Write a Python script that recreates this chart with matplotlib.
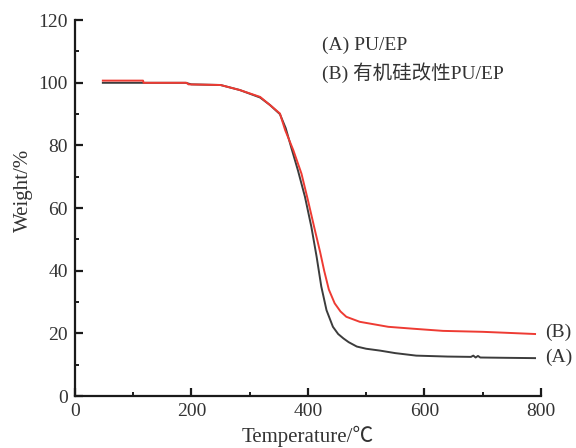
import matplotlib
matplotlib.use("Agg")
import matplotlib.pyplot as plt
from matplotlib.ticker import MultipleLocator

# TGA curves
temp_a = [48, 190, 200, 250, 283, 318, 335, 352, 362, 372, 383, 395, 406, 415,
          423, 432, 443, 452, 461, 470, 484, 500, 524, 550, 586, 640, 680, 684,
          688, 692, 696, 740, 790]
weight_a = [100, 100, 99.5, 99.3, 97.7, 95.3, 92.9, 90, 85.5, 79, 72, 63.6, 54,
            44.5, 35, 27.4, 22.1, 19.8, 18.4, 17.2, 15.8, 15.1, 14.5, 13.7,
            12.9, 12.6, 12.5, 12.9, 12.3, 12.8, 12.3, 12.2, 12.1]

temp_b = [48, 117, 118, 192, 195, 250, 283, 318, 335, 352, 361, 375, 389, 400,
          412, 421, 428, 436, 446, 456, 466, 489, 538, 580, 632, 700, 752, 790]
weight_b = [100.7, 100.7, 100, 100, 99.5, 99.3, 97.7, 95.5, 92.9, 90.2, 84.9,
            78.5, 71, 62.6, 53, 46, 40, 34, 29.6, 27, 25.3, 23.7, 22.1,
            21.5, 20.8, 20.5, 20.1, 19.8]

label_a = "(A) PU/EP"
label_b = "(B) 有机硅改性PU/EP"

plt.rcParams["font.family"] = ["Liberation Serif", "Noto Sans CJK SC"]
plt.rcParams["font.size"] = 14

fig = plt.figure(figsize=(5.76, 4.48), dpi=100)
ax = fig.add_axes([0.130, 0.116, 0.809, 0.839])

ax.plot(temp_a, weight_a, color="#3c3c3c", linewidth=1.4)
ax.plot(temp_b, weight_b, color="#ee3b33", linewidth=1.4)

ax.set_xlim(0, 800)
ax.set_ylim(0, 120)
ax.xaxis.set_major_locator(MultipleLocator(200))
ax.xaxis.set_minor_locator(MultipleLocator(100))
ax.yaxis.set_major_locator(MultipleLocator(20))
ax.yaxis.set_minor_locator(MultipleLocator(10))

for side in ("top", "right"):
    ax.spines[side].set_visible(False)
for side in ("left", "bottom"):
    ax.spines[side].set_linewidth(1.6)
    ax.spines[side].set_color("#1a1a1a")

ax.tick_params(which="major", direction="in", length=6, width=1.6,
               colors="#1a1a1a", labelsize=14, labelcolor="#333333")
ax.tick_params(which="minor", direction="in", length=3, width=1.4,
               colors="#1a1a1a")
ax.tick_params(axis="x", pad=5)
ax.tick_params(axis="y", pad=5)

ax.set_xlabel("Temperature/℃", fontsize=15, color="#333333", labelpad=4)
ax.set_ylabel("Weight/%", fontsize=15, color="#333333")
ax.yaxis.set_label_coords(-0.09, 0.548)

ax.text(322 / 576, 1 - 45 / 448, label_a, transform=fig.transFigure,
        fontsize=14, color="#333333", va="center", ha="left")
ax.text(322 / 576, 1 - 73 / 448, label_b, transform=fig.transFigure,
        fontsize=14, color="#333333", va="center", ha="left")

ax.text(807, 20.2, "(B)", fontsize=14, color="#333333", va="center",
        ha="left", clip_on=False)
ax.text(807, 12.2, "(A)", fontsize=14, color="#333333", va="center",
        ha="left", clip_on=False)

fig.savefig("out.png", dpi=100)
